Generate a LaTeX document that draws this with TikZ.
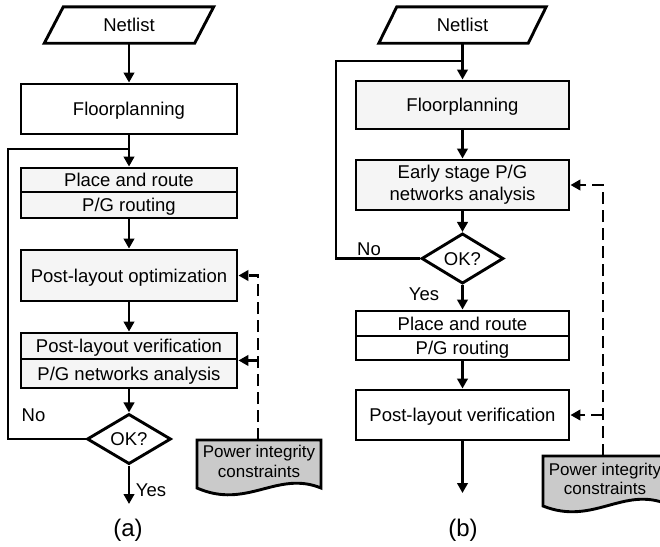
\documentclass[tikz,border=0pt]{standalone}
\usepackage{fontspec}
\setmainfont{Liberation Sans}
\usetikzlibrary{arrows.meta,shapes.geometric}
\definecolor{lg}{RGB}{245,245,245}
\definecolor{dg}{RGB}{202,202,202}
\begin{document}
\begin{tikzpicture}[x=1pt,y=-1pt,
  lw/.style={line width=2.9pt},
  box/.style={draw,lw,inner sep=0pt,font=\fontsize{18.5}{22.5}\selectfont,text height=13.2pt,text depth=0pt},
  mbox/.style={draw,lw,inner sep=0pt,font=\fontsize{18.5}{23}\selectfont,align=center},
  arr/.style={lw,-{Triangle[length=10pt,width=10.5pt]}},
  darr/.style={line width=2.6pt,dash pattern=on 12pt off 6pt,-{Triangle[length=10pt,width=10.5pt]}},
  lbl/.style={font=\fontsize{18.5}{22}\selectfont,inner sep=0pt,text height=13.2pt,text depth=0pt},
  capt/.style={font=\fontsize{24}{28}\selectfont,inner sep=0pt},
  doctext/.style={font=\fontsize{17}{19.5}\selectfont,align=center,inner sep=0pt},
  dec/.style={draw,lw,fill=white,shape=diamond,inner sep=0pt,minimum width=84pt,minimum height=49pt,font=\fontsize{18.5}{22}\selectfont,text height=13.2pt,text depth=0pt},
  docshape/.style={lw,fill=dg}
]
\useasboundingbox (0,0) rectangle (660,546);

% ---------------- (a) ----------------
\node[lbl,minimum width=150pt,minimum height=36pt] (neta) at (129,25) {Netlist};
\draw[lw,fill=white] ([xshift=-9.5pt]neta.south west) -- ([xshift=9.5pt]neta.north west)
  -- ([xshift=9.5pt]neta.north east) -- ([xshift=-9.5pt]neta.south east) -- cycle;
\node[lbl] at (neta) {Netlist};

\node[box,minimum width=216pt,minimum height=50pt,fill=white] (floora) at (129,109) {Floorplanning};
\node[box,minimum width=216pt,minimum height=24pt,fill=lg] (par1a) at (129,180) {Place and route};
\node[box,minimum width=216pt,minimum height=26pt,fill=lg] (par2a) at (129,205) {P/G routing};
\node[box,minimum width=216pt,minimum height=51pt,fill=lg] (opta) at (129,275.5) {Post-layout optimization};
\node[box,minimum width=216pt,minimum height=26pt,fill=lg] (ver1a) at (129,346) {Post-layout verification};
\node[box,minimum width=216pt,minimum height=29pt,fill=lg] (ver2a) at (129,373.5) {P/G networks analysis};
\node[dec] (oka) at (129,439) {OK?};
\coordinate (enda) at (129,504);
\coordinate (ja) at (129,149);
\coordinate (ca) at (8,439);

\draw[arr] (neta.south) -- (floora.north);
\draw[arr] (floora.south) -- (par1a.north);
\draw[arr] (par2a.south) -- (opta.north);
\draw[arr] (opta.south) -- (ver1a.north);
\draw[arr] (ver2a.south) -- (oka.north);
\draw[arr] (oka.south) -- (enda);
\draw[lw] (oka.west) -- (ca) |- (ja);

\node[lbl] (noa) at (33.5,415) {No};
\node[lbl] (yesa) at (151,489.5) {Yes};
\node[capt] (capa) at (128,530) {(a)};

% power integrity doc (a)
\draw[docshape] (197,440) -- (321,440) -- (321,488)
  .. controls (277,470) and (247,510) .. (197,488) -- cycle;
\node[doctext] (pwa) at (259,461.5) {Power integrity\\constraints};
\coordinate (pwatop) at (258,440);
\draw[darr] (pwatop) |- (opta.east);
\draw[darr] (pwatop |- ver1a.south east) -- (ver1a.south east);

% ---------------- (b) ----------------
\node[lbl,minimum width=149pt,minimum height=36pt] (netb) at (462.5,25) {Netlist};
\draw[lw,fill=white] ([xshift=-9pt]netb.south west) -- ([xshift=9pt]netb.north west)
  -- ([xshift=9pt]netb.north east) -- ([xshift=-9pt]netb.south east) -- cycle;
\node[lbl] at (netb) {Netlist};

\node[box,minimum width=213pt,minimum height=48pt,fill=lg] (floorb) at (462.5,105) {Floorplanning};
\node[mbox,minimum width=213pt,minimum height=50pt,fill=lg] (earlyb) at (462.5,185) {Early stage P/G\\[-1pt]networks analysis};
\node[dec,minimum width=82pt] (okb) at (462.5,258.5) {OK?};
\node[box,minimum width=213pt,minimum height=25pt,fill=white] (par1b) at (462.5,323.5) {Place and route};
\node[box,minimum width=213pt,minimum height=24pt,fill=white] (par2b) at (462.5,348) {P/G routing};
\node[box,minimum width=213pt,minimum height=50pt,fill=white] (verb) at (462.5,415) {Post-layout verification};
\coordinate (endb) at (462.5,493);
\coordinate (jb) at (462.5,61);
\coordinate (cb) at (336,258.5);

\draw[arr] (netb.south) -- (floorb.north);
\draw[arr] (floorb.south) -- (earlyb.north);
\draw[arr] (earlyb.south) -- (okb.north);
\draw[arr] (okb.south) -- (par1b.north);
\draw[arr] (par2b.south) -- (verb.north);
\draw[arr] (verb.south) -- (endb);
\draw[lw] (okb.west) -- (cb) |- (jb);

\node[lbl] (nob) at (369,249) {No};
\node[lbl] (yesb) at (424,293.5) {Yes};
\node[capt] (capb) at (463,530) {(b)};

% power integrity doc (b)
\draw[docshape] (543,456) -- (667,456) -- (667,504)
  .. controls (623,486) and (593,526) .. (543,506) -- cycle;
\node[doctext] (pwb) at (605,479) {Power integrity\\constraints};
\coordinate (pwbtop) at (603,456);
\draw[darr] (pwbtop) |- (earlyb.east);
\draw[darr] (pwbtop |- verb.east) -- (verb.east);
\end{tikzpicture}
\end{document}
